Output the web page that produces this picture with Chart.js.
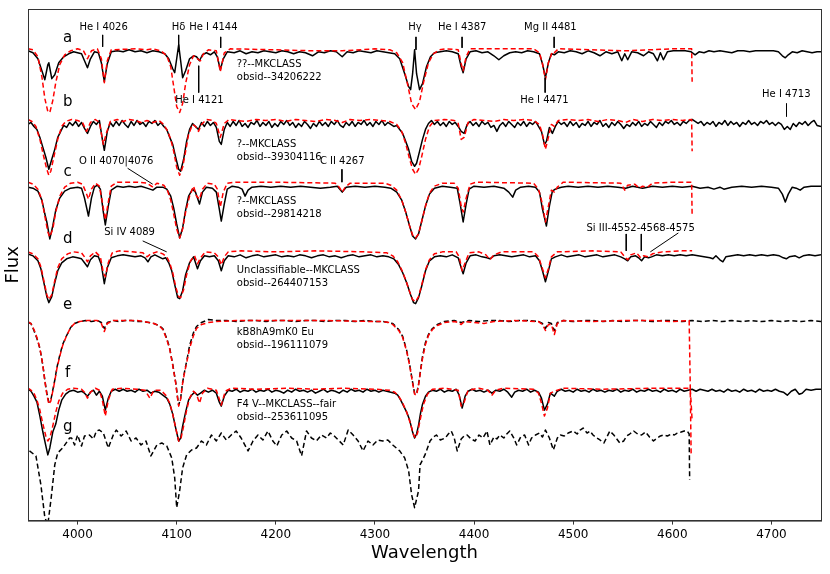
<!DOCTYPE html>
<html>
<head>
<meta charset="utf-8">
<script src="https://cdn.jsdelivr.net/npm/chart.js@4.4.1/dist/chart.umd.min.js"></script>
<style>
  html, body { margin: 0; padding: 0; background: #fff; }
  canvas { display: block; }
</style>
</head>
<body>
<canvas id="spec" width="830" height="574"></canvas>
<script>
// x ticks (Angstrom)
const xTicks = [4000, 4100, 4200, 4300, 4400, 4500, 4600, 4700];

// vertical shift of each normalised spectrum, a..g
const letters = ['a', 'b', 'c', 'd', 'e', 'f', 'g'];
const shifts = [3.74, 3.03, 2.38, 1.69, 1.01, 0.33, -0.12];

const classText = [
    ['??--MKCLASS', 'obsid--34206222'],
    ['?--MKCLASS', 'obsid--39304116'],
    ['?--MKCLASS', 'obsid--29814218'],
    ['Unclassifiable--MKCLASS', 'obsid--264407153'],
    ['kB8hA9mK0 Eu', 'obsid--196111079'],
    ['F4 V--MKCLASS--fair', 'obsid--253611095'],
];

// [wavelength, normalised flux]
const obsA = [[3950,0.98],[3955,0.96],[3960,0.90],[3964,0.78],[3967,0.69],[3970,0.84],[3971,0.86],[3974,0.70],[3977,0.74],[3981,0.86],[3986,0.92],[3991,0.95],[3996,0.97],[4000,0.96],[4004,0.95],[4007,0.88],[4010,0.81],[4013,0.90],[4017,0.97],[4021,0.96],[4024,0.86],[4027,0.67],[4030,0.85],[4034,0.97],[4040,0.98],[4046,0.97],[4052,0.99],[4058,0.97],[4064,0.98],[4070,0.96],[4076,0.98],[4082,0.97],[4088,0.95],[4092,0.90],[4096,0.80],[4098,0.76],[4100,0.90],[4102,1.04],[4104,0.88],[4106,0.71],[4109,0.78],[4113,0.90],[4117,0.93],[4120,0.92],[4123,0.88],[4126,0.94],[4130,0.96],[4134,0.94],[4138,0.97],[4141,0.92],[4144,0.79],[4147,0.90],[4151,0.97],[4158,0.96],[4164,0.98],[4170,0.95],[4176,0.97],[4182,0.96],[4188,0.98],[4194,0.97],[4200,0.96],[4206,0.98],[4212,0.97],[4218,0.95],[4224,0.97],[4230,0.96],[4237,0.93],[4243,0.97],[4249,0.96],[4255,0.98],[4261,0.97],[4267,0.92],[4272,0.97],[4278,0.96],[4284,0.98],[4290,0.97],[4296,0.96],[4302,0.98],[4308,0.97],[4314,0.96],[4320,0.95],[4325,0.90],[4330,0.75],[4334,0.62],[4336,0.59],[4338,0.75],[4340,0.99],[4342,0.75],[4345,0.59],[4348,0.65],[4352,0.82],[4356,0.92],[4360,0.96],[4366,0.97],[4372,0.98],[4378,0.97],[4384,0.95],[4387,0.82],[4389,0.76],[4392,0.90],[4396,0.97],[4402,0.98],[4408,0.96],[4414,0.97],[4420,0.93],[4425,0.89],[4430,0.93],[4436,0.96],[4442,0.97],[4448,0.96],[4454,0.98],[4460,0.97],[4466,0.95],[4469,0.85],[4472,0.71],[4475,0.86],[4478,0.95],[4481,0.94],[4485,0.97],[4491,0.96],[4497,0.98],[4503,0.97],[4509,0.95],[4515,0.98],[4521,0.96],[4527,0.93],[4533,0.97],[4539,0.95],[4545,0.97],[4549,0.88],[4552,0.95],[4555,0.89],[4559,0.97],[4565,0.96],[4571,0.93],[4576,0.97],[4581,0.95],[4585,0.88],[4588,0.96],[4591,0.89],[4595,0.97],[4601,0.98],[4607,0.98],[4613,0.98],[4619,0.97],[4623,0.94],[4627,0.97],[4632,0.96],[4637,0.98],[4642,0.97],[4648,0.98],[4654,0.97],[4660,0.96],[4666,0.98],[4672,0.98],[4678,0.97],[4684,0.98],[4690,0.98],[4696,0.98],[4702,0.98],[4707,0.97],[4711,0.93],[4714,0.91],[4717,0.94],[4721,0.97],[4726,0.96],[4731,0.98],[4736,0.97],[4741,0.96],[4746,0.97],[4750,0.97]];
const fitA = [[3950,1.0],[3955,0.99],[3960,0.92],[3964,0.72],[3967,0.50],[3970,0.37],[3972,0.36],[3975,0.48],[3978,0.66],[3982,0.84],[3987,0.94],[3993,0.98],[4000,1.0],[4006,0.98],[4010,0.90],[4014,0.98],[4020,1.0],[4024,0.90],[4027,0.66],[4030,0.88],[4034,0.99],[4060,1.0],[4070,0.99],[4076,1.0],[4084,0.98],[4090,0.93],[4094,0.82],[4097,0.62],[4100,0.42],[4103,0.36],[4106,0.45],[4109,0.65],[4113,0.84],[4117,0.93],[4121,0.90],[4124,0.88],[4127,0.95],[4132,0.99],[4140,0.98],[4144,0.77],[4148,0.96],[4154,1.0],[4200,0.99],[4237,0.98],[4267,0.98],[4300,1.0],[4315,0.99],[4322,0.96],[4328,0.86],[4333,0.64],[4337,0.45],[4341,0.39],[4345,0.47],[4349,0.66],[4354,0.86],[4359,0.95],[4365,0.99],[4372,1.0],[4384,0.99],[4387,0.85],[4389,0.78],[4392,0.92],[4396,1.0],[4460,1.0],[4466,0.96],[4469,0.85],[4472,0.69],[4475,0.86],[4479,0.97],[4481,0.96],[4485,1.0],[4553,0.98],[4600,1.0],[4619.5,1.0],[4620,0.67]];

const obsB = [[3950,0.95],[3953,0.97],[3956,0.93],[3959,0.90],[3962,0.82],[3965,0.72],[3968,0.62],[3971,0.50],[3974,0.60],[3977,0.70],[3980,0.82],[3983,0.88],[3986,0.94],[3989,0.92],[3992,0.97],[3995,0.94],[3998,0.98],[4001,0.93],[4004,0.97],[4007,0.91],[4010,0.86],[4013,0.93],[4016,0.98],[4019,0.95],[4022,0.99],[4025,0.80],[4027,0.69],[4030,0.88],[4033,0.97],[4036,0.93],[4039,0.98],[4042,0.94],[4045,0.99],[4048,0.95],[4051,0.92],[4054,0.98],[4057,0.94],[4060,0.99],[4063,0.95],[4066,0.97],[4069,0.93],[4072,0.98],[4075,0.96],[4078,0.99],[4081,0.94],[4084,0.97],[4087,0.93],[4090,0.90],[4093,0.82],[4096,0.75],[4099,0.62],[4102,0.50],[4104,0.48],[4107,0.60],[4110,0.78],[4113,0.90],[4116,0.96],[4119,0.93],[4122,0.90],[4125,0.97],[4128,0.93],[4131,0.98],[4134,0.94],[4137,0.97],[4140,0.92],[4143,0.78],[4145,0.75],[4148,0.90],[4151,0.97],[4154,0.93],[4157,0.98],[4160,0.94],[4163,0.99],[4166,0.93],[4169,0.96],[4172,0.92],[4175,0.97],[4178,0.95],[4181,0.99],[4184,0.93],[4187,0.97],[4190,0.94],[4193,0.98],[4196,0.92],[4199,0.96],[4202,0.93],[4205,0.98],[4208,0.95],[4211,0.99],[4214,0.94],[4217,0.97],[4220,0.92],[4223,0.96],[4226,0.93],[4229,0.98],[4232,0.95],[4235,0.91],[4238,0.96],[4241,0.93],[4244,0.98],[4247,0.94],[4250,0.97],[4253,0.93],[4256,0.98],[4259,0.95],[4262,0.99],[4265,0.94],[4268,0.92],[4271,0.97],[4274,0.94],[4277,0.98],[4280,0.93],[4283,0.97],[4286,0.95],[4289,0.99],[4292,0.94],[4295,0.97],[4298,0.93],[4301,0.98],[4304,0.95],[4307,0.99],[4310,0.94],[4313,0.97],[4316,0.95],[4319,0.93],[4322,0.94],[4325,0.90],[4328,0.86],[4331,0.78],[4334,0.70],[4337,0.58],[4340,0.53],[4342,0.56],[4345,0.68],[4348,0.80],[4351,0.90],[4354,0.96],[4357,0.99],[4360,0.95],[4363,0.98],[4366,0.94],[4369,0.97],[4372,0.93],[4375,0.98],[4378,0.95],[4381,0.97],[4384,0.93],[4387,0.88],[4390,0.86],[4393,0.95],[4396,0.98],[4399,0.94],[4402,0.97],[4405,0.93],[4408,0.98],[4411,0.95],[4414,0.97],[4417,0.92],[4420,0.94],[4423,0.88],[4426,0.94],[4429,0.97],[4432,0.93],[4435,0.98],[4438,0.95],[4441,0.92],[4444,0.97],[4447,0.94],[4450,0.98],[4453,0.93],[4456,0.97],[4459,0.95],[4462,0.98],[4465,0.93],[4468,0.88],[4471,0.75],[4473,0.78],[4476,0.92],[4479,0.86],[4482,0.93],[4485,0.98],[4488,0.95],[4491,0.97],[4494,0.93],[4497,0.98],[4500,0.94],[4503,0.97],[4506,0.92],[4509,0.96],[4512,0.94],[4515,0.98],[4518,0.93],[4521,0.97],[4524,0.95],[4527,0.99],[4530,0.93],[4533,0.96],[4536,0.92],[4539,0.97],[4542,0.94],[4545,0.98],[4548,0.95],[4551,0.91],[4554,0.95],[4557,0.93],[4560,0.97],[4563,0.94],[4566,0.98],[4569,0.93],[4572,0.96],[4575,0.94],[4578,0.98],[4581,0.95],[4584,0.92],[4587,0.97],[4590,0.94],[4593,0.98],[4596,0.96],[4599,0.99],[4602,0.95],[4605,0.97],[4608,0.94],[4611,0.98],[4614,0.96],[4617,0.99],[4620,1.00],[4623,0.98],[4626,0.96],[4629,0.98],[4632,0.94],[4635,0.97],[4638,0.95],[4641,0.98],[4644,0.93],[4647,0.97],[4650,0.95],[4653,0.99],[4656,0.94],[4659,0.98],[4662,0.95],[4665,0.97],[4668,0.93],[4671,0.97],[4674,0.95],[4677,0.99],[4680,0.95],[4683,0.97],[4686,0.94],[4689,0.98],[4692,0.96],[4695,0.99],[4698,0.95],[4701,0.97],[4704,0.94],[4707,0.97],[4710,0.95],[4713,0.90],[4716,0.93],[4719,0.90],[4722,0.96],[4725,0.93],[4728,0.97],[4731,0.95],[4734,0.98],[4737,0.94],[4740,0.97],[4743,0.99],[4746,0.94],[4750,0.93]];
const fitB = [[3950,1.0],[3954,0.98],[3958,0.93],[3962,0.80],[3966,0.62],[3969,0.50],[3971,0.44],[3973,0.48],[3976,0.62],[3980,0.80],[3984,0.93],[3988,0.98],[3994,1.0],[4000,0.99],[4005,0.97],[4009,0.88],[4013,0.97],[4018,1.0],[4022,0.97],[4026,0.75],[4029,0.86],[4033,0.98],[4040,1.0],[4046,0.98],[4052,1.0],[4058,0.99],[4064,0.97],[4070,0.99],[4076,0.97],[4082,0.99],[4087,0.95],[4091,0.88],[4094,0.80],[4097,0.68],[4100,0.52],[4103,0.44],[4106,0.52],[4109,0.68],[4112,0.85],[4116,0.95],[4119,0.93],[4122,0.88],[4125,0.95],[4130,1.0],[4136,0.99],[4140,0.96],[4144,0.82],[4148,0.96],[4153,1.0],[4160,0.99],[4170,0.98],[4180,1.0],[4190,0.99],[4200,1.0],[4210,0.98],[4220,1.0],[4230,0.99],[4240,0.98],[4250,1.0],[4260,0.99],[4267,0.97],[4275,1.0],[4285,0.99],[4295,1.0],[4305,0.99],[4315,0.98],[4322,0.95],[4327,0.88],[4331,0.76],[4335,0.60],[4338,0.50],[4341,0.45],[4344,0.50],[4347,0.62],[4351,0.80],[4355,0.93],[4360,0.99],[4370,1.0],[4380,0.99],[4384,0.96],[4387,0.80],[4390,0.82],[4394,0.97],[4400,1.0],[4410,0.99],[4420,0.98],[4430,1.0],[4440,0.99],[4450,1.0],[4460,0.99],[4466,0.95],[4469,0.85],[4472,0.70],[4475,0.82],[4478,0.95],[4481,0.93],[4485,0.99],[4495,1.0],[4505,0.99],[4515,1.0],[4525,0.98],[4535,1.0],[4545,0.99],[4553,0.97],[4560,1.0],[4570,0.98],[4580,1.0],[4590,0.99],[4600,1.0],[4610,0.99],[4619.5,1.0],[4620,0.68]];

const obsC = [[3950,0.97],[3955,0.96],[3960,0.93],[3964,0.84],[3967,0.70],[3969,0.62],[3972,0.45],[3975,0.58],[3978,0.74],[3982,0.86],[3987,0.93],[3993,0.96],[4000,0.97],[4004,0.96],[4007,0.86],[4011,0.68],[4014,0.86],[4017,0.97],[4020,0.99],[4023,0.95],[4026,0.72],[4028,0.59],[4031,0.78],[4034,0.94],[4040,0.98],[4046,0.97],[4052,0.98],[4058,0.97],[4064,0.98],[4070,0.96],[4073,0.95],[4076,0.94],[4080,0.97],[4086,0.97],[4090,0.95],[4094,0.88],[4097,0.76],[4100,0.60],[4103,0.46],[4106,0.56],[4109,0.74],[4112,0.88],[4116,0.95],[4119,0.92],[4123,0.80],[4126,0.92],[4130,0.97],[4136,0.96],[4140,0.92],[4143,0.75],[4145,0.63],[4148,0.80],[4151,0.95],[4156,0.98],[4162,0.97],[4166,0.95],[4169,0.88],[4172,0.94],[4176,0.97],[4185,0.98],[4195,0.97],[4205,0.98],[4215,0.97],[4225,0.98],[4235,0.97],[4245,0.96],[4255,0.97],[4262,0.98],[4267,0.92],[4271,0.97],[4280,0.98],[4290,0.97],[4300,0.98],[4310,0.97],[4316,0.96],[4322,0.92],[4327,0.84],[4331,0.72],[4335,0.58],[4338,0.48],[4341,0.45],[4344,0.50],[4347,0.62],[4351,0.78],[4355,0.90],[4360,0.96],[4368,0.98],[4376,0.97],[4383,0.96],[4386,0.80],[4389,0.62],[4392,0.80],[4395,0.95],[4400,0.98],[4410,0.97],[4420,0.98],[4430,0.96],[4435,0.92],[4439,0.87],[4442,0.94],[4447,0.97],[4455,0.98],[4462,0.97],[4466,0.92],[4469,0.75],[4473,0.58],[4476,0.78],[4479,0.93],[4482,0.95],[4488,0.97],[4495,0.98],[4505,0.97],[4515,0.98],[4525,0.97],[4535,0.98],[4545,0.97],[4553,0.96],[4560,0.98],[4570,0.96],[4580,0.98],[4590,0.97],[4600,0.98],[4610,0.97],[4620,0.98],[4628,0.96],[4636,0.97],[4642,0.95],[4648,0.97],[4652,0.95],[4660,0.97],[4670,0.98],[4680,0.97],[4690,0.98],[4700,0.97],[4707,0.96],[4711,0.90],[4714,0.82],[4717,0.90],[4721,0.97],[4725,0.96],[4729,0.94],[4733,0.97],[4740,0.98],[4750,0.98]];
const fitC = [[3950,1.02],[3955,1.0],[3960,0.95],[3964,0.84],[3967,0.68],[3970,0.52],[3972,0.47],[3975,0.55],[3978,0.72],[3982,0.88],[3987,0.97],[3993,1.01],[4000,1.02],[4005,1.0],[4008,0.93],[4011,0.85],[4014,0.95],[4018,1.01],[4022,0.98],[4025,0.82],[4028,0.64],[4031,0.82],[4034,0.98],[4040,1.02],[4060,1.02],[4070,1.01],[4076,0.97],[4080,1.01],[4087,0.99],[4091,0.93],[4094,0.84],[4097,0.70],[4100,0.55],[4103,0.46],[4106,0.55],[4109,0.72],[4113,0.88],[4117,0.98],[4120,0.88],[4123,0.85],[4126,0.95],[4131,1.01],[4138,1.0],[4141,0.95],[4144,0.77],[4147,0.92],[4151,1.01],[4160,1.02],[4200,1.02],[4260,1.01],[4264,0.97],[4267,0.92],[4270,0.97],[4275,1.01],[4310,1.01],[4316,0.99],[4322,0.94],[4327,0.84],[4331,0.72],[4335,0.58],[4338,0.49],[4341,0.46],[4344,0.50],[4347,0.62],[4351,0.78],[4355,0.91],[4360,0.98],[4368,1.01],[4380,1.01],[4384,0.96],[4387,0.78],[4389,0.72],[4392,0.86],[4396,1.0],[4402,1.02],[4460,1.01],[4465,0.95],[4469,0.80],[4472,0.62],[4475,0.78],[4478,0.94],[4481,0.92],[4484,0.97],[4490,1.02],[4548,1.01],[4552,0.94],[4555,0.99],[4562,1.0],[4567,0.96],[4570,0.98],[4575,0.97],[4580,1.01],[4600,1.02],[4619.5,1.02],[4620,0.68]];

const obsD = [[3950,0.99],[3955,0.97],[3960,0.92],[3963,0.84],[3966,0.70],[3969,0.56],[3971,0.50],[3974,0.56],[3977,0.70],[3980,0.82],[3984,0.90],[3989,0.94],[3995,0.96],[4000,0.95],[4004,0.94],[4007,0.90],[4010,0.86],[4013,0.93],[4017,0.97],[4021,0.96],[4024,0.88],[4027,0.69],[4030,0.85],[4034,0.95],[4040,0.97],[4046,0.98],[4052,0.97],[4058,0.96],[4064,0.97],[4068,0.95],[4071,0.91],[4074,0.96],[4078,0.98],[4082,0.96],[4086,0.94],[4089,0.95],[4092,0.90],[4095,0.82],[4098,0.68],[4101,0.55],[4103,0.54],[4106,0.62],[4109,0.78],[4113,0.90],[4117,0.96],[4121,0.84],[4124,0.92],[4128,0.97],[4133,0.96],[4138,0.97],[4142,0.92],[4145,0.82],[4148,0.92],[4152,0.97],[4158,0.96],[4164,0.98],[4170,0.95],[4176,0.97],[4182,0.98],[4188,0.96],[4194,0.97],[4200,0.98],[4206,0.96],[4212,0.97],[4218,0.96],[4224,0.98],[4230,0.97],[4236,0.95],[4242,0.97],[4248,0.98],[4254,0.96],[4260,0.97],[4266,0.95],[4272,0.97],[4278,0.98],[4284,0.96],[4290,0.97],[4296,0.98],[4302,0.96],[4308,0.97],[4314,0.96],[4319,0.94],[4324,0.88],[4328,0.80],[4332,0.70],[4336,0.58],[4339,0.50],[4341,0.49],[4344,0.55],[4347,0.66],[4351,0.82],[4355,0.92],[4360,0.96],[4366,0.97],[4372,0.96],[4378,0.98],[4384,0.95],[4387,0.85],[4389,0.79],[4392,0.90],[4396,0.97],[4402,0.98],[4408,0.96],[4413,0.95],[4416,0.94],[4420,0.97],[4426,0.98],[4432,0.97],[4438,0.96],[4444,0.97],[4450,0.98],[4456,0.96],[4462,0.97],[4466,0.92],[4469,0.82],[4472,0.71],[4475,0.82],[4478,0.94],[4482,0.96],[4488,0.98],[4494,0.96],[4500,0.97],[4506,0.98],[4512,0.96],[4518,0.97],[4524,0.98],[4530,0.96],[4536,0.97],[4542,0.98],[4548,0.96],[4552,0.94],[4555,0.92],[4558,0.96],[4563,0.97],[4566,0.95],[4569,0.92],[4572,0.96],[4576,0.95],[4579,0.96],[4584,0.98],[4590,0.97],[4596,0.98],[4602,0.97],[4608,0.98],[4614,0.97],[4620,0.98],[4626,0.97],[4632,0.96],[4638,0.95],[4641,0.94],[4644,0.97],[4648,0.93],[4651,0.91],[4654,0.96],[4660,0.97],[4666,0.98],[4672,0.97],[4678,0.98],[4684,0.97],[4690,0.98],[4696,0.97],[4702,0.98],[4708,0.97],[4712,0.95],[4715,0.94],[4718,0.96],[4724,0.97],[4728,0.95],[4732,0.97],[4738,0.98],[4744,0.97],[4750,0.98]];
const fitD = [[3950,1.01],[3955,0.99],[3960,0.94],[3963,0.86],[3966,0.72],[3969,0.58],[3971,0.53],[3974,0.58],[3977,0.72],[3980,0.85],[3984,0.94],[3990,0.99],[3996,1.01],[4004,1.0],[4007,0.96],[4010,0.91],[4013,0.97],[4018,1.01],[4023,0.96],[4026,0.80],[4028,0.76],[4031,0.90],[4035,1.0],[4042,1.02],[4055,1.01],[4066,1.0],[4070,0.96],[4074,0.99],[4080,1.01],[4086,0.99],[4090,0.96],[4093,0.90],[4096,0.80],[4099,0.66],[4102,0.56],[4104,0.55],[4107,0.63],[4110,0.78],[4114,0.92],[4118,0.97],[4121,0.89],[4124,0.95],[4129,1.01],[4138,1.0],[4142,0.96],[4145,0.88],[4148,0.96],[4152,1.01],[4165,1.02],[4200,1.01],[4240,1.02],[4290,1.01],[4312,1.0],[4318,0.97],[4323,0.91],[4327,0.83],[4331,0.73],[4335,0.61],[4338,0.53],[4341,0.51],[4344,0.56],[4347,0.67],[4351,0.83],[4355,0.93],[4360,0.99],[4368,1.01],[4382,1.01],[4385,0.96],[4388,0.82],[4391,0.90],[4395,1.0],[4405,1.01],[4412,0.98],[4416,0.93],[4420,0.98],[4428,1.01],[4460,1.01],[4465,0.96],[4469,0.84],[4472,0.75],[4475,0.84],[4478,0.96],[4484,1.01],[4520,1.02],[4548,1.01],[4552,0.96],[4555,0.93],[4558,0.98],[4564,1.0],[4568,0.95],[4571,0.97],[4576,0.96],[4580,0.99],[4590,1.01],[4610,1.02],[4620,1.02]];

const obsE = [[3950,0.98],[3953,0.97],[3956,0.90],[3959,0.82],[3962,0.72],[3965,0.55],[3967,0.40],[3969,0.27],[3971,0.18],[3973,0.20],[3975,0.30],[3977,0.40],[3979,0.52],[3982,0.65],[3985,0.76],[3989,0.85],[3993,0.93],[3997,0.97],[4002,0.99],[4008,1.0],[4014,0.99],[4020,1.0],[4024,0.98],[4027,0.92],[4030,0.98],[4036,1.0],[4042,0.99],[4048,1.0],[4054,1.0],[4060,0.99],[4066,0.99],[4072,0.98],[4077,0.97],[4082,0.95],[4086,0.92],[4090,0.82],[4093,0.72],[4096,0.56],[4099,0.38],[4101,0.22],[4102,0.15],[4104,0.22],[4106,0.38],[4108,0.49],[4111,0.64],[4113,0.75],[4117,0.88],[4120,0.94],[4125,0.98],[4132,1.01],[4140,1.0],[4150,1.0],[4160,0.99],[4170,1.0],[4180,1.0],[4190,0.99],[4200,1.0],[4210,1.0],[4220,0.99],[4230,1.0],[4240,1.0],[4250,0.99],[4260,1.0],[4270,1.0],[4280,0.99],[4290,1.0],[4300,0.99],[4308,0.99],[4314,0.98],[4318,0.97],[4324,0.91],[4328,0.84],[4332,0.70],[4335,0.56],[4338,0.38],[4340,0.27],[4342,0.26],[4344,0.36],[4346,0.50],[4348,0.64],[4351,0.78],[4354,0.86],[4358,0.92],[4363,0.96],[4370,0.99],[4380,1.0],[4387,0.98],[4395,1.0],[4405,0.99],[4415,1.0],[4425,1.0],[4435,0.99],[4445,1.0],[4455,1.0],[4465,0.99],[4469,0.97],[4472,0.92],[4475,0.98],[4478,0.97],[4481,0.90],[4484,0.98],[4490,1.0],[4500,0.99],[4510,1.0],[4520,1.0],[4530,0.99],[4540,1.0],[4550,0.99],[4560,1.0],[4570,1.0],[4580,0.99],[4590,1.0],[4600,1.0],[4610,0.99],[4620,1.0],[4630,0.99],[4640,1.0],[4650,0.99],[4660,1.0],[4670,0.99],[4680,1.0],[4690,0.99],[4700,1.0],[4710,0.99],[4720,1.0],[4730,0.99],[4740,1.0],[4750,0.99]];
const fitE = [[3950,0.99],[3953,0.97],[3956,0.91],[3959,0.83],[3962,0.72],[3965,0.55],[3967,0.39],[3969,0.26],[3971,0.16],[3973,0.19],[3975,0.29],[3977,0.39],[3979,0.51],[3982,0.64],[3985,0.75],[3989,0.85],[3993,0.93],[3997,0.97],[4002,0.99],[4010,1.0],[4020,1.0],[4024,0.97],[4027,0.89],[4030,0.97],[4036,1.0],[4060,1.0],[4072,0.98],[4077,0.97],[4082,0.95],[4086,0.91],[4090,0.81],[4093,0.71],[4096,0.55],[4099,0.37],[4101,0.21],[4102,0.14],[4104,0.21],[4106,0.37],[4108,0.48],[4111,0.62],[4113,0.72],[4117,0.85],[4120,0.92],[4125,0.96],[4132,0.98],[4140,0.99],[4160,1.0],[4200,1.0],[4250,1.0],[4300,0.99],[4308,0.99],[4314,0.98],[4318,0.96],[4324,0.90],[4328,0.83],[4332,0.69],[4335,0.55],[4338,0.37],[4340,0.26],[4342,0.25],[4344,0.35],[4346,0.49],[4348,0.62],[4351,0.76],[4354,0.85],[4358,0.91],[4363,0.95],[4370,0.98],[4380,0.99],[4384,0.98],[4387,0.96],[4390,0.99],[4400,0.98],[4410,0.97],[4420,0.99],[4440,1.0],[4465,0.99],[4469,0.96],[4472,0.90],[4475,0.96],[4478,0.96],[4481,0.86],[4484,0.97],[4490,1.0],[4520,0.99],[4550,1.0],[4580,1.0],[4600,0.99],[4617,1.0],[4618,0.40],[4619,-0.35]];

const obsF = [[3950,0.99],[3953,0.97],[3956,0.92],[3959,0.86],[3962,0.72],[3965,0.56],[3968,0.42],[3970,0.33],[3972,0.40],[3975,0.56],[3978,0.64],[3981,0.78],[3984,0.88],[3988,0.94],[3992,0.97],[3996,0.98],[4000,0.96],[4004,0.97],[4007,0.95],[4010,0.92],[4013,0.96],[4016,0.98],[4019,0.93],[4022,0.97],[4025,0.92],[4028,0.78],[4031,0.90],[4034,0.97],[4038,0.99],[4042,0.97],[4046,0.99],[4050,0.97],[4054,0.98],[4058,0.96],[4062,0.99],[4066,0.97],[4070,0.98],[4074,0.95],[4078,0.97],[4082,0.96],[4086,0.93],[4090,0.90],[4093,0.84],[4096,0.74],[4099,0.60],[4102,0.47],[4104,0.50],[4106,0.62],[4109,0.76],[4112,0.88],[4115,0.93],[4118,0.96],[4121,0.93],[4124,0.95],[4128,0.98],[4132,0.96],[4136,0.98],[4140,0.95],[4143,0.86],[4145,0.82],[4148,0.92],[4152,0.98],[4156,0.97],[4160,0.99],[4164,0.96],[4168,0.98],[4172,0.97],[4176,0.99],[4180,0.96],[4184,0.98],[4188,0.97],[4192,0.99],[4196,0.96],[4200,0.98],[4204,0.97],[4208,0.95],[4212,0.98],[4216,0.96],[4220,0.99],[4224,0.97],[4228,0.98],[4232,0.96],[4236,0.98],[4240,0.95],[4244,0.97],[4248,0.99],[4252,0.96],[4256,0.98],[4260,0.97],[4264,0.95],[4268,0.98],[4272,0.96],[4276,0.99],[4280,0.97],[4284,0.98],[4288,0.96],[4292,0.99],[4296,0.97],[4300,0.98],[4304,0.96],[4308,0.98],[4312,0.97],[4316,0.96],[4320,0.95],[4323,0.93],[4326,0.88],[4329,0.82],[4332,0.76],[4335,0.68],[4338,0.56],[4340,0.50],[4342,0.54],[4344,0.63],[4346,0.75],[4348,0.84],[4351,0.92],[4354,0.96],[4358,0.98],[4362,0.97],[4366,0.99],[4370,0.96],[4374,0.98],[4378,0.97],[4382,0.99],[4385,0.93],[4388,0.80],[4391,0.92],[4394,0.97],[4398,0.99],[4402,0.97],[4406,0.98],[4410,0.96],[4414,0.98],[4418,0.95],[4422,0.98],[4426,0.97],[4430,0.99],[4434,0.96],[4438,0.91],[4441,0.96],[4445,0.98],[4449,0.97],[4453,0.99],[4457,0.96],[4461,0.98],[4465,0.96],[4468,0.90],[4471,0.78],[4474,0.84],[4477,0.95],[4481,0.92],[4484,0.97],[4488,0.99],[4492,0.97],[4496,0.98],[4500,0.96],[4504,0.99],[4508,0.97],[4512,0.98],[4516,0.96],[4520,0.99],[4524,0.97],[4528,0.98],[4532,0.96],[4536,0.98],[4540,0.97],[4544,0.99],[4548,0.96],[4552,0.98],[4556,0.97],[4560,0.99],[4564,0.96],[4568,0.98],[4572,0.97],[4576,0.99],[4580,0.97],[4584,0.98],[4588,0.96],[4592,0.99],[4596,0.97],[4600,0.98],[4604,0.96],[4608,0.99],[4612,0.97],[4616,0.98],[4620,0.99],[4624,0.97],[4628,0.99],[4632,0.98],[4636,0.97],[4640,0.99],[4644,0.97],[4648,0.98],[4652,0.96],[4656,0.99],[4660,0.97],[4664,0.98],[4668,0.96],[4672,0.99],[4676,0.97],[4680,0.98],[4684,0.96],[4688,0.99],[4692,0.97],[4696,0.98],[4700,0.97],[4704,0.99],[4708,0.97],[4712,0.96],[4716,0.93],[4720,0.97],[4724,0.99],[4728,0.94],[4731,0.95],[4735,0.99],[4740,0.98],[4745,0.99],[4750,0.99]];
const fitF = [[3950,1.0],[3953,0.98],[3956,0.95],[3959,0.88],[3962,0.78],[3965,0.64],[3968,0.52],[3970,0.47],[3972,0.50],[3975,0.62],[3978,0.76],[3981,0.87],[3985,0.95],[3990,0.99],[3996,1.0],[4004,0.99],[4007,0.96],[4010,0.90],[4013,0.96],[4018,1.0],[4022,0.98],[4025,0.88],[4028,0.72],[4031,0.88],[4035,0.99],[4045,1.0],[4060,0.99],[4068,0.98],[4073,0.90],[4077,0.98],[4084,0.98],[4089,0.93],[4093,0.85],[4096,0.74],[4099,0.60],[4102,0.47],[4104,0.48],[4107,0.62],[4110,0.78],[4113,0.90],[4117,0.97],[4120,0.94],[4123,0.85],[4126,0.95],[4131,1.0],[4140,0.98],[4145,0.83],[4149,0.97],[4155,1.0],[4180,0.99],[4210,1.0],[4240,0.99],[4270,1.0],[4300,0.99],[4315,0.98],[4320,0.96],[4324,0.92],[4328,0.85],[4332,0.76],[4336,0.64],[4339,0.53],[4341,0.50],[4343,0.55],[4346,0.70],[4349,0.84],[4353,0.94],[4358,0.99],[4370,1.0],[4384,0.98],[4387,0.82],[4390,0.86],[4394,0.98],[4405,1.0],[4414,0.98],[4418,0.93],[4422,0.98],[4430,1.0],[4460,0.99],[4465,0.95],[4468,0.85],[4471,0.72],[4474,0.80],[4477,0.95],[4481,0.97],[4490,1.0],[4530,0.99],[4580,1.0],[4618,1.0],[4619,0.85],[4620,0.67]];

const obsG = [[3951.5,0.82],[3958,0.77],[3963,0.48],[3967,0.15],[3970,0.08],[3973.4,0.35],[3977,0.68],[3980,0.80],[3985,0.85],[3992,0.95],[3994,0.95],[3997,0.88],[4000,0.98],[4004,0.87],[4007,0.97],[4012,0.98],[4016,0.94],[4019,1.02],[4022,1.03],[4026,1.00],[4031,0.85],[4036,0.98],[4039,1.03],[4044,0.97],[4049,1.02],[4054,0.92],[4059,0.95],[4064,0.88],[4069,0.92],[4074,0.77],[4080,0.88],[4085,0.90],[4090,0.87],[4095,0.75],[4098,0.55],[4100,0.25],[4103,0.42],[4106,0.65],[4110,0.78],[4115,0.83],[4120,0.85],[4125,0.92],[4130,0.88],[4135,0.98],[4140,0.92],[4145,1.00],[4150,0.93],[4155,0.98],[4160,1.02],[4165,0.95],[4172,0.82],[4177,0.92],[4182,0.98],[4187,0.93],[4192,1.02],[4197,0.92],[4201,0.87],[4206,0.98],[4211,1.02],[4216,0.95],[4221,0.92],[4226,0.77],[4231,1.02],[4236,0.95],[4241,0.92],[4246,0.98],[4251,0.95],[4255,1.00],[4258,0.98],[4263,0.93],[4268,0.88],[4273,1.03],[4278,0.98],[4283,0.92],[4288,0.82],[4293,0.92],[4298,0.88],[4303,0.93],[4308,0.92],[4313,0.93],[4318,0.88],[4325,0.82],[4330,0.75],[4334,0.62],[4337,0.38],[4340,0.25],[4344,0.42],[4345.5,0.68],[4350.5,0.78],[4355.6,0.92],[4359,0.96],[4362,0.98],[4366,0.93],[4371,0.95],[4374,0.99],[4377,1.02],[4380,0.95],[4383,0.82],[4387,0.94],[4390,0.97],[4393,0.98],[4397,0.94],[4401,0.92],[4405,0.98],[4409,0.95],[4413,1.02],[4416,0.88],[4420,0.96],[4423,0.94],[4426,0.98],[4430,0.95],[4433,0.99],[4436,1.02],[4440,0.95],[4443,0.88],[4447,0.96],[4451,0.98],[4455,0.88],[4458,0.95],[4462,0.98],[4466,1.00],[4469,0.96],[4472,1.03],[4476,0.95],[4480,0.83],[4484,0.95],[4487,0.98],[4491,0.97],[4495,1.00],[4500,1.02],[4504,0.99],[4507,1.03],[4510,1.05],[4514,1.00],[4517,1.02],[4520,0.98],[4524,0.95],[4527,0.93],[4531,0.90],[4534,0.96],[4537,1.02],[4541,0.98],[4544,0.94],[4547,0.90],[4551,0.92],[4554,0.97],[4557,0.99],[4561,1.02],[4565,0.99],[4569,0.98],[4573,1.01],[4577,0.96],[4581,0.92],[4585,0.95],[4588,0.97],[4591,0.98],[4595,0.97],[4599,0.99],[4602,0.98],[4605,1.00],[4609,1.01],[4612,1.02],[4615,1.02],[4617,0.99],[4617.5,0.53]];

// line identifications: [text, wavelength, y]
const idLabels = [
    ['He I 4026', 4026.3, 4.96], ['H\u03b4', 4102, 4.96], ['He I 4144', 4137, 4.96],
    ['He I 4121', 4123, 4.22], ['H\u03b3', 4340.4, 4.96], ['He I 4387', 4388, 4.96],
    ['Mg II 4481', 4477, 4.96], ['He I 4471', 4471, 4.22], ['He I 4713', 4715, 4.28],
    ['O II 4070|4076', 4039, 3.61], ['C II 4267', 4267, 3.61],
    ['Si IV 4089', 4052.5, 2.90], ['Si III-4552-4568-4575', 4568, 2.94],
];
// marker segments: [x1, y1, x2, y2]
const idTicks = [
    [4025.3, 4.88, 4025.3, 4.76], [4102, 4.88, 4102, 4.71], [4144.4, 4.86, 4144.4, 4.75],
    [4122.2, 4.57, 4122.2, 4.30], [4341.4, 4.86, 4341.4, 4.73], [4387.9, 4.86, 4387.9, 4.75],
    [4480.8, 4.86, 4480.8, 4.75], [4471.7, 4.45, 4471.7, 4.30], [4715.2, 4.19, 4715.2, 4.06],
    [4050.5, 3.54, 4075.8, 3.38], [4266.7, 3.53, 4266.7, 3.40], [4065.7, 2.81, 4089.9, 2.70],
    [4553.5, 2.88, 4553.5, 2.71], [4568.7, 2.88, 4568.7, 2.71], [4606.1, 2.89, 4577.8, 2.70],
];
const letterY = [4.85, 4.20, 3.50, 2.83, 2.16, 1.48, 0.94];
const classY = [4.58, 3.78, 3.21, 2.51, 1.89, 1.17];

const spectra = [
    { obs: obsA, fit: fitA, dashed: false },
    { obs: obsB, fit: fitB, dashed: false },
    { obs: obsC, fit: fitC, dashed: false },
    { obs: obsD, fit: fitD, dashed: false },
    { obs: obsE, fit: fitE, dashed: true },
    { obs: obsF, fit: fitF, dashed: false },
    { obs: obsG, fit: null, dashed: true },
];

const toPts = (arr, s) => arr.map(p => ({ x: p[0], y: p[1] + s }));

let datasets = [];
spectra.forEach((sp, i) => {
    datasets.push({
        data: toPts(sp.obs, shifts[i]),
        borderColor: '#000',
        borderWidth: 1.5,
        borderDash: sp.dashed ? [5, 3] : [],
        order: 2,
    });
    if (sp.fit) {
        datasets.push({
            data: toPts(sp.fit, shifts[i]),
            borderColor: '#ff0000',
            borderWidth: 1.5,
            borderDash: [5, 3],
            order: 1,
        });
    }
});

// marker lines as one broken dataset
let tickPts = [];
idTicks.forEach(t => {
    tickPts.push({ x: t[0], y: t[1] }, { x: t[2], y: t[3] }, { x: t[2], y: null });
});
datasets.push({ data: tickPts, borderColor: '#000', borderWidth: 1, spanGaps: false, order: 0 });

const textPlugin = {
    id: 'texts',
    afterDatasetsDraw(chart) {
        const ctx = chart.ctx, xs = chart.scales.x, ys = chart.scales.y, a = chart.chartArea;
        ctx.save();
        ctx.fillStyle = '#000';
        ctx.textBaseline = 'middle';
        ctx.font = '10px "DejaVu Sans"';
        ctx.textAlign = 'center';
        idLabels.forEach(l => ctx.fillText(l[0], xs.getPixelForValue(l[1]), ys.getPixelForValue(l[2])));
        ctx.textAlign = 'left';
        classText.forEach((c, i) => {
            const x = xs.getPixelForValue(4160.6);
            ctx.fillText(c[0], x, ys.getPixelForValue(classY[i]));
            ctx.fillText(c[1], x, ys.getPixelForValue(classY[i] - 0.13));
        });
        ctx.font = '15px "DejaVu Sans"';
        ctx.textAlign = 'center';
        letters.forEach((l, i) => ctx.fillText(l, xs.getPixelForValue(3990), ys.getPixelForValue(letterY[i])));
        // frame
        ctx.strokeStyle = '#333';
        ctx.lineWidth = 1;
        ctx.strokeRect(a.left + 0.5, a.top + 0.5, a.right - a.left, a.bottom - a.top);
        // axis titles
        ctx.font = '18px "DejaVu Sans"';
        ctx.fillText('Wavelength', (a.left + a.right) / 2, 553);
        ctx.translate(13, (a.top + a.bottom) / 2);
        ctx.rotate(-Math.PI / 2);
        ctx.fillText('Flux', 0, 0);
        ctx.restore();
    }
};

new Chart(document.getElementById('spec'), {
    type: 'line',
    data: { datasets: datasets },
    options: {
        responsive: false,
        animation: false,
        parsing: true,
        layout: { padding: { left: 28, top: 9, right: 9, bottom: 29 } },
        elements: {
            point: { radius: 0 },
            line: { tension: 0, fill: false, borderJoinStyle: 'round' }
        },
        plugins: { legend: { display: false }, tooltip: { enabled: false } },
        scales: {
            x: {
                type: 'linear',
                min: 3950,
                max: 4750,
                afterBuildTicks: (s) => { s.ticks = xTicks.map(v => ({ value: v })); },
                ticks: {
                    color: '#000',
                    font: { size: 12, family: '"DejaVu Sans"' },
                    padding: 3,
                    autoSkip: false,
                    maxRotation: 0,
                    callback: (v) => String(v)
                },
                grid: { display: true, drawOnChartArea: false, tickLength: 4, color: '#333' },
                border: { color: '#333' }
            },
            y: {
                display: false,
                min: 0,
                max: 5.14
            }
        }
    },
    plugins: [textPlugin]
});
</script>
</body>
</html>
